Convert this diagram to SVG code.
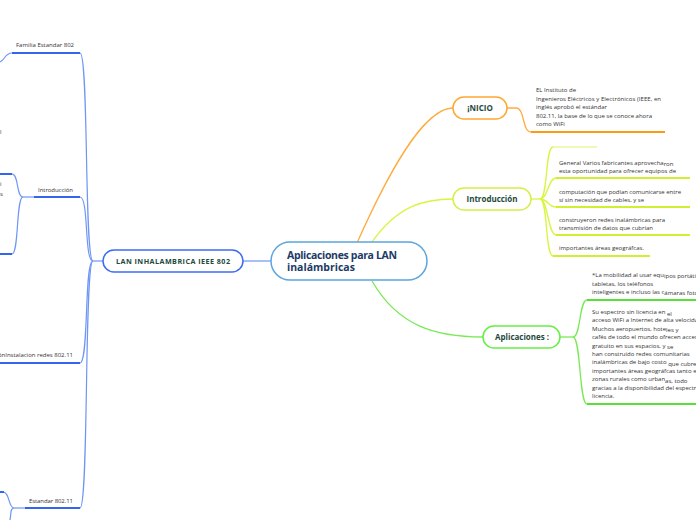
<svg xmlns="http://www.w3.org/2000/svg" width="696" height="520" viewBox="0 0 696 520">
<style>
.t{font-family:"Open Sans","Noto Sans","DejaVu Sans",sans-serif;font-size:6px;fill:#333}
.nb{font-family:"Open Sans","Noto Sans","DejaVu Sans",sans-serif;font-weight:bold;fill:#1d4a3c}
.c{font-family:"Open Sans","Noto Sans","DejaVu Sans",sans-serif;font-weight:bold;fill:#1c3a66;font-size:10.5px}
.bl{fill:none;stroke:#6f96f5;stroke-width:1.2}
.bu{fill:none;stroke:#3366ee;stroke-width:2}
.or{fill:none;stroke:#ffab40;stroke-width:1.3}
.ou{fill:none;stroke:#ff9a10;stroke-width:2}
.yl{fill:none;stroke:#d8f540;stroke-width:1.3}
.yu{fill:none;stroke:#d0ef30;stroke-width:2}
.gl{fill:none;stroke:#77ea55;stroke-width:1.3}
.gu{fill:none;stroke:#5ade38;stroke-width:2}
</style>
<rect width="696" height="520" fill="#fff"/>
<g id="connectors">
  <path class="bl" d="M243,261 L271,261" stroke-width="1.6"/>
  <path class="bl" d="M103,261 L93,261"/>
  <path class="bl" d="M93,261 C84,261 89,53 80,53"/>
  <path class="bl" d="M93,261 C84,261 89,197 80,197"/>
  <path class="bl" d="M93,261 C84,261 89,363 80,363"/>
  <path class="bl" d="M93,261 C84,261 89,508 80,508"/>
  <path class="bu" d="M12,53 L80,53"/>
  <path class="bu" d="M34,197 L80,197"/>
  <path class="bu" d="M0,363 L80,363"/>
  <path class="bu" d="M25,508 L80,508"/>
  <path class="bl" d="M12,53 C5,53 5,60 0,62"/>
  <path class="bl" d="M34,197 L23,197"/>
  <path class="bl" d="M23,197 C16,197 19,174 12,174"/>
  <path class="bl" d="M23,197 C16,197 19,254 12,254"/>
  <path class="bu" d="M0,174 L12,174"/>
  <path class="bu" d="M0,254 L12,254"/>
  <path class="bl" d="M25,508 L14,508"/>
  <path class="bl" d="M14,508 C8,508 10,492 3,492"/>
  <path class="bl" d="M14,508 C9,508 12,518 9,522"/>
  <path class="bu" d="M0,492 L4,492"/>
  <path class="or" d="M357,243 C385,180 422,108 453,108"/>
  <path class="or" d="M507,108 L516,108 C525,108 522,132 531,132"/>
  <path class="ou" d="M531,132 L665,132"/>
  <path class="yl" d="M372,242 C398,205 425,199 453,199"/>
  <path class="yl" d="M531,199 L540,199"/>
  <path class="yl" d="M540,199 C548,199 545,147 553,147"/>
  <path class="yl" d="M540,199 C548,199 548,178 556,178"/>
  <path class="yl" d="M540,199 C548,199 548,207 556,207"/>
  <path class="yl" d="M540,199 C548,199 548,235 556,235"/>
  <path class="yl" d="M540,199 C548,199 545,256 553,256"/>
  <path d="M553,147 L597,147" fill="none" stroke="#e6f7a0" stroke-width="1.5"/>
  <path class="yu" d="M556,178 L690,178"/>
  <path class="yu" d="M556,207 L690,207"/>
  <path class="yu" d="M556,235 L690,235"/>
  <path class="yu" d="M553,256 L650,256"/>
  <path class="gl" d="M372,281 C398,326 435,337 483,337"/>
  <path class="gl" d="M560,337 L573,337"/>
  <path class="gl" d="M573,337 C581,337 579,300 587,300"/>
  <path class="gl" d="M573,337 C581,337 579,404 587,404"/>
  <path class="gu" d="M587,300 L696,300"/>
  <path class="gu" d="M587,404 L696,404"/>
</g>
<g id="central">
  <rect x="271" y="242" width="156" height="38" rx="19" fill="#fff" stroke="#5aa5dc" stroke-width="1.5"/>
  <text class="c" x="287" y="258.5" textLength="110">Aplicaciones para LAN</text>
  <text class="c" x="287" y="271">inalámbricas</text>
</g>
<g id="lan">
  <rect x="103" y="250" width="140" height="22" rx="11" fill="#fff" stroke="#3c6cf0" stroke-width="1.5"/>
  <text class="nb" x="173" y="264" font-size="7.2" text-anchor="middle" textLength="114">LAN INHALAMBRICA IEEE 802</text>
</g>
<g id="familia">
  <text class="t" x="16" y="47" textLength="58">Familia Estandar 802</text>
  <text class="t" x="0" y="134">l</text>
</g>
<g id="introduccion-left">
  <text class="t" x="38" y="192" textLength="35">Introducción</text>
  <text class="t" x="0" y="186">i</text>
  <text class="t" x="0" y="196">s</text>
</g>
<g id="instalacion">
  <text class="t" x="73" y="357" text-anchor="end">ónInstalacion redes 802.11</text>
</g>
<g id="estandar">
  <text class="t" x="29" y="503" textLength="44">Estandar 802.11</text>
</g>
<g id="inicio">
  <rect x="453" y="97" width="54" height="22" rx="11" fill="#fff" stroke="#ffa733" stroke-width="1.5"/>
  <text class="nb" x="480" y="111" font-size="8" text-anchor="middle">¡NICIO</text>
</g>
<g id="inicio-text">
  <text class="t" x="536" y="92">EL Instituto de</text>
  <text class="t" x="536" y="100.5" textLength="125">Ingenieros Eléctricos y Electrónicos (IEEE, en</text>
  <text class="t" x="536" y="109" textLength="71">inglés aprobó el estándar</text>
  <text class="t" x="536" y="117.5" textLength="116">802.11, la base de lo que se conoce ahora</text>
  <text class="t" x="536" y="126">como WiFi</text>
</g>
<g id="introduccion">
  <rect x="453" y="188" width="78" height="22" rx="11" fill="#fff" stroke="#d4f04a" stroke-width="1.5"/>
  <text class="nb" x="492" y="202" font-size="8" text-anchor="middle" textLength="51">Introducción</text>
</g>
<g id="intro-1">
  <text class="t" x="559" y="164.5">General Varios fabricantes aprovecha<tspan dy="1.5">ron</tspan></text>
  <text class="t" x="559" y="173" textLength="117">esta oportunidad para ofrecer equipos de</text>
</g>
<g id="intro-2">
  <text class="t" x="559" y="193.5" textLength="122">computación que podían comunicarse entre</text>
  <text class="t" x="559" y="202" textLength="85">sí sin necesidad de cables, y se</text>
</g>
<g id="intro-3">
  <text class="t" x="559" y="221.5" textLength="106">construyeron redes inalámbricas para</text>
  <text class="t" x="559" y="229.5" textLength="94">transmisión de datos que cubrían</text>
</g>
<g id="intro-4">
  <text class="t" x="559" y="250" textLength="85">importantes áreas geográfcas.</text>
</g>
<g id="aplicaciones">
  <rect x="483" y="326" width="77" height="22" rx="11" fill="#fff" stroke="#66ee44" stroke-width="1.5"/>
  <text class="nb" x="522" y="340" font-size="8" text-anchor="middle" textLength="54">Aplicaciones :</text>
</g>
<g id="apl-1">
  <text class="t" x="592" y="277">*La mobilidad al usar equ<tspan dy="1.2">ipos  portátil</tspan></text>
  <text class="t" x="592" y="285.5">tabletas, los teléfonos</text>
  <text class="t" x="592" y="294">inteligentes e incluso las c<tspan dy="1.2">ámaras foto</tspan></text>
</g>
<g id="apl-2">
  <text class="t" x="592" y="314">Su espectro sin licencia en <tspan dy="1.5">el</tspan></text>
  <text class="t" x="592" y="322.4">acceso WiFi a Internet de alta velocidad</text>
  <text class="t" x="592" y="330.8">Muchos aeropuertos, hote<tspan dy="1.5">les y</tspan></text>
  <text class="t" x="592" y="339.2">cafés de todo el mundo ofrecen acceso</text>
  <text class="t" x="592" y="347.6">gratuito en sus espacios, y <tspan dy="1.5">se</tspan></text>
  <text class="t" x="592" y="356">han construido redes comunitarias</text>
  <text class="t" x="592" y="364.4">inalámbricas de bajo costo <tspan dy="1.5">que cubren</tspan></text>
  <text class="t" x="592" y="372.8">importantes áreas geográfcas tanto en</text>
  <text class="t" x="592" y="381.2">zonas rurales como urban<tspan dy="1.5">as, todo</tspan></text>
  <text class="t" x="592" y="389.6">gracias a la disponibilidad del espectro</text>
  <text class="t" x="592" y="398">licencia.</text>
</g>
</svg>
